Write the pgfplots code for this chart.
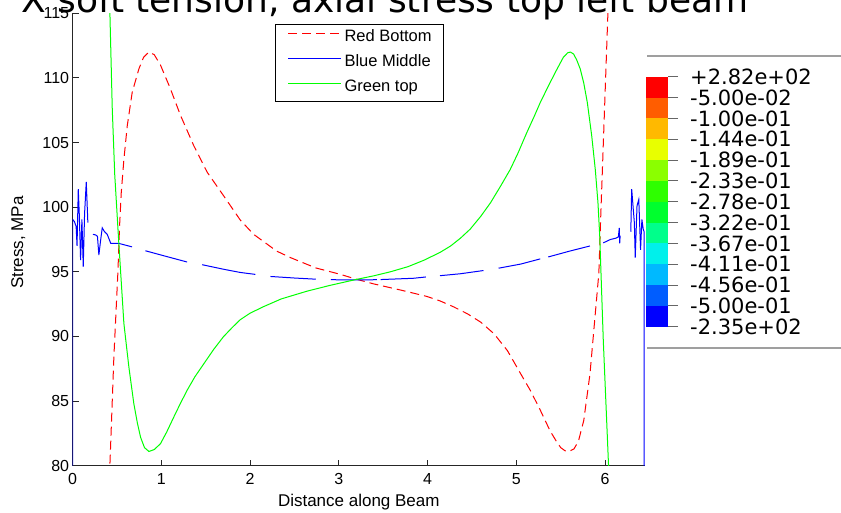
\documentclass[border=0pt]{standalone}
\usepackage{pgfplots}
\pgfplotsset{compat=1.18}
\usepackage{fontspec}
\setmainfont{Liberation Sans}
\newfontfamily\dejavu{DejaVu Sans}
\definecolor{cb0}{RGB}{0,0,255}
\definecolor{cb1}{RGB}{0,93,255}
\definecolor{cb2}{RGB}{0,185,255}
\definecolor{cb3}{RGB}{0,240,235}
\definecolor{cb4}{RGB}{0,255,139}
\definecolor{cb5}{RGB}{0,255,46}
\definecolor{cb6}{RGB}{46,255,0}
\definecolor{cb7}{RGB}{139,255,0}
\definecolor{cb8}{RGB}{232,255,0}
\definecolor{cb9}{RGB}{255,185,0}
\definecolor{cb10}{RGB}{255,93,0}
\definecolor{cb11}{RGB}{255,0,0}
\begin{document}
\begin{tikzpicture}
\path[use as bounding box] (0pt,0pt) rectangle (841pt,512pt);
\clip (0pt,0pt) rectangle (841pt,512pt);
\begin{axis}[
  at={(72.6pt,46.3pt)}, anchor=south west,
  scale only axis, width=572.4pt, height=452.4pt,
  xmin=0, xmax=6.45, ymin=80, ymax=115,
  axis x line*=bottom, axis y line*=left,
  axis line style={line width=1pt, black!85},
  xtick={0,1,...,6}, ytick={80,85,...,115},
  tick align=inside, major tick length=6pt,
  tick style={line width=1pt, black!85},
  /pgf/number format/assume math mode=true,
  tick label style={font=\fontsize{16}{16}\selectfont},
  xticklabel style={yshift=-4pt},
  xlabel={Distance along Beam}, ylabel={Stress, MPa},
  label style={font=\fontsize{17}{17}\selectfont},
  xlabel style={at={(axis description cs:0.5,0)}, anchor=base, yshift=-40.5pt},
  ylabel style={at={(axis description cs:-0.0949,0.4934)}, anchor=center},
  unbounded coords=jump,
  legend style={at={(axis description cs:0.3536,0.9765)}, anchor=north west,
    draw=black, line width=1pt, fill=white,
    font=\fontsize{16.5}{16.5}\selectfont,
    inner xsep=12pt, inner ysep=6pt, row sep=10pt, column sep=3pt,
    cells={anchor=west},
    nodes={inner sep=0pt, text height=11.5pt, text depth=3.5pt}},
  legend image code/.code={\draw[#1] (0pt,4pt) -- (53pt,4pt);},
]
\addlegendimage{draw=red, line width=1pt, dash pattern=on 9pt off 5pt}
\addlegendentry{Red Bottom}
\addlegendimage{draw=blue, line width=1pt}
\addlegendentry{Blue Middle}
\addlegendimage{draw=green, line width=1pt}
\addlegendentry{Green top}

% Red Bottom
\addplot[forget plot, red, line width=1pt, dash pattern=on 9pt off 5pt] coordinates {
(0.415,78) (0.42,80) (0.465,88.4) (0.51,94.9) (0.529,98.5) (0.548,101.1)
(0.578,103.7) (0.616,106.3) (0.672,108.9) (0.747,110.7) (0.80,111.6)
(0.86,112.0) (0.92,111.8) (0.99,111.0) (1.10,109.2) (1.216,107.1)
(1.366,104.75) (1.517,102.7) (1.70,100.9) (1.89,99.0) (2.04,97.9)
(2.30,96.6) (2.455,96.1) (2.74,95.3) (3.02,94.8) (3.19,94.44) (3.39,94.07)
(3.69,93.6) (3.99,93.1) (4.14,92.75) (4.29,92.3) (4.45,91.75) (4.6,91.1)
(4.75,90.2) (4.90,88.9) (5.05,87.1) (5.16,85.8) (5.27,84.3) (5.38,82.7)
(5.45,81.9) (5.50,81.4) (5.55,81.15) (5.59,81.1) (5.65,81.3) (5.70,81.9)
(5.76,83.5) (5.83,87.1) (5.88,91.0) (5.93,94.9)
(5.95,99.05) (5.97,102.9) (5.99,106.8) (6.01,110.7) (6.03,114.6) (6.04,117)
};

% Blue Middle
\addplot[forget plot, blue, line width=1pt] coordinates {
(0,75) (0,99.05) (0.02,98.9) (0.04,98.5) (0.05,97.0) (0.064,101.4) (0.075,99.5)
(0.09,95.9) (0.105,99.05) (0.12,95.4) (0.135,99.5) (0.154,101.95) (0.172,98.8)
(0.2,nan)
(0.229,97.9) (0.26,97.85) (0.28,97.75) (0.296,96.3) (0.315,97.4) (0.334,98.4)
(0.36,98.1) (0.39,97.9) (0.43,97.2) (0.52,97.2) (0.67,96.93)
(0.75,nan)
(0.82,96.63) (1.05,96.2) (1.29,95.76)
(1.38,nan)
(1.46,95.55) (1.70,95.2) (1.89,94.95) (2.06,94.8)
(2.15,nan)
(2.23,94.64) (2.5,94.52) (2.74,94.43)
(2.82,nan)
(2.91,94.39) (3.2,94.37) (3.43,94.39)
(3.45,nan)
(3.47,94.4) (3.84,94.5) (3.98,94.6)
(4.05,nan)
(4.14,94.7) (4.37,94.85) (4.63,95.1)
(4.72,nan)
(4.8,95.28) (5.05,95.6) (5.27,96.0)
(5.32,nan)
(5.36,96.15) (5.6,96.6) (5.83,97.0)
(5.9,nan)
(5.98,97.24) (6.06,97.5) (6.12,97.6) (6.15,97.7) (6.16,98.4) (6.165,97.2) (6.17,97.8)
(6.23,nan)
(6.29,98.1) (6.30,101.4) (6.33,98.8) (6.34,96.1) (6.36,100.1) (6.38,100.6)
(6.40,96.7) (6.415,99.05) (6.43,98.3) (6.44,98.1) (6.44,75)
};

% Green top
\addplot[forget plot, green, line width=1pt] coordinates {
(0.415,117) (0.42,115.1) (0.447,107.6) (0.475,102.5) (0.52,97.3) (0.578,91.0)
(0.634,87.64) (0.69,84.8) (0.73,83.3) (0.766,82.2) (0.81,81.4) (0.86,81.1)
(0.92,81.25) (0.99,81.7) (1.06,82.6) (1.14,83.76) (1.21,84.75)
(1.29,85.83) (1.38,86.9) (1.48,87.9) (1.59,89.0) (1.70,89.98) (1.80,90.7)
(1.89,91.3) (2.0,91.8) (2.15,92.3) (2.35,92.9) (2.64,93.5) (2.9,93.95)
(3.19,94.4) (3.4,94.7) (3.58,95.0) (3.78,95.4) (3.96,95.9) (4.14,96.5)
(4.26,97.0) (4.37,97.6) (4.48,98.3) (4.60,99.3)
(4.71,100.35) (4.82,101.6) (4.93,102.9) (5.02,104.2) (5.12,105.8) (5.20,107.0)
(5.27,108.1) (5.37,109.5) (5.46,110.7) (5.53,111.6) (5.58,111.95) (5.61,112.0)
(5.645,111.85) (5.68,111.4) (5.72,110.7) (5.76,109.6) (5.80,108.1) (5.85,105.5)
(5.89,102.9) (5.92,100.35) (5.94,97.75)
(5.98,89.7) (6.04,79.9) (6.05,78)
};
\end{axis}

% Abaqus colour legend
\begin{axis}[
  at={(646pt,185.3pt)}, anchor=south west,
  scale only axis, width=22pt, height=250pt,
  xmin=0, xmax=1, ymin=0, ymax=12,
  axis x line=none, axis y line*=right,
  y axis line style={draw=none},
  ytick={0,1,...,12},
  yticklabels={-2.35e+02,-5.00e-01,-4.56e-01,-4.11e-01,-3.67e-01,-3.22e-01,-2.78e-01,-2.33e-01,-1.89e-01,-1.44e-01,-1.00e-01,-5.00e-02,+2.82e+02},
  tick align=outside, major tick length=10pt,
  tick style={line width=1pt, black!60},
  yticklabel style={font=\dejavu\fontsize{21}{21}\selectfont, anchor=west, inner sep=0pt, xshift=12pt},
  clip=false,
]
\addplot[fill=cb0, draw=none] coordinates {(0,0) (1,0) (1,1) (0,1)} -- cycle;
\addplot[fill=cb1, draw=none] coordinates {(0,1) (1,1) (1,2) (0,2)} -- cycle;
\addplot[fill=cb2, draw=none] coordinates {(0,2) (1,2) (1,3) (0,3)} -- cycle;
\addplot[fill=cb3, draw=none] coordinates {(0,3) (1,3) (1,4) (0,4)} -- cycle;
\addplot[fill=cb4, draw=none] coordinates {(0,4) (1,4) (1,5) (0,5)} -- cycle;
\addplot[fill=cb5, draw=none] coordinates {(0,5) (1,5) (1,6) (0,6)} -- cycle;
\addplot[fill=cb6, draw=none] coordinates {(0,6) (1,6) (1,7) (0,7)} -- cycle;
\addplot[fill=cb7, draw=none] coordinates {(0,7) (1,7) (1,8) (0,8)} -- cycle;
\addplot[fill=cb8, draw=none] coordinates {(0,8) (1,8) (1,9) (0,9)} -- cycle;
\addplot[fill=cb9, draw=none] coordinates {(0,9) (1,9) (1,10) (0,10)} -- cycle;
\addplot[fill=cb10, draw=none] coordinates {(0,10) (1,10) (1,11) (0,11)} -- cycle;
\addplot[fill=cb11, draw=none] coordinates {(0,11) (1,11) (1,12) (0,12)} -- cycle;
\end{axis}

\draw[gray!75, line width=2pt] (647pt,456pt) -- (841pt,456pt);
\draw[gray!75, line width=2pt] (647pt,164pt) -- (841pt,164pt);

\node[anchor=base west, inner sep=0pt, font=\dejavu\fontsize{36}{36}\selectfont] at (21pt,499pt) {X soft tension, axial stress top left beam};
\end{tikzpicture}
\end{document}
